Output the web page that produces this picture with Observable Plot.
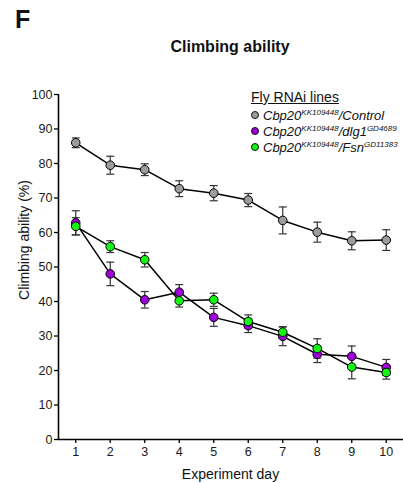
<!DOCTYPE html>
<html><head><meta charset="utf-8">
<script src="https://cdn.jsdelivr.net/npm/d3@7"></script>
<script src="https://cdn.jsdelivr.net/npm/@observablehq/plot@0.6"></script>
<style>
body{margin:0;background:#fff;font-family:"Liberation Sans",Arial,sans-serif;color:#111;}
#wrap{position:relative;width:403px;height:483px;overflow:hidden;}
.abs{position:absolute;line-height:1;white-space:nowrap;}
#panel{left:15px;top:7px;font-size:25px;font-weight:bold;}
#title{left:230px;top:38.5px;font-size:16px;font-weight:bold;transform:translateX(-50%);}
#ylab{left:24px;top:240px;font-size:14px;transform:translate(-50%,-50%) rotate(-90deg);}
#xlab{left:230.5px;top:467px;font-size:14px;transform:translateX(-50%);}
#chart{position:absolute;left:0;top:60px;}
#legend{position:absolute;left:251px;top:89px;}
#legend .hd{font-size:14px;text-decoration:underline;line-height:16px;height:18px;}
#legend .row{display:flex;align-items:center;height:16px;font-size:13px;font-style:italic;}
#legend .mk{width:8px;height:8px;border-radius:50%;border:1px solid #111;box-sizing:border-box;margin-left:0px;margin-right:4px;}
#legend sup{font-size:8px;vertical-align:5px;line-height:0;}
</style></head><body>
<div id="wrap">
  <div class="abs" id="panel">F</div>
  <div class="abs" id="title">Climbing ability</div>
  <div class="abs" id="ylab">Climbing ability (%)</div>
  <div class="abs" id="xlab">Experiment day</div>
  <div id="chart"></div>
  <div id="legend"></div>
</div>
<script>
// ---- data ----
const days = [1, 2, 3, 4, 5, 6, 7, 8, 9, 10];
const yTicks = [0, 10, 20, 30, 40, 50, 60, 70, 80, 90, 100];

const seriesNames = ["Control", "dlg1", "Fsn"];
const seriesColors = ["#9c9c9c", "#9e00da", "#14f514"];

const controlMean = [86.0, 79.5, 78.2, 72.7, 71.4, 69.4, 63.5, 60.1, 57.6, 57.8];
const controlErr  = [1.4, 2.6, 1.7, 2.3, 2.2, 1.9, 3.9, 2.9, 2.6, 3.0];

const dlg1Mean = [62.8, 48.0, 40.5, 42.7, 35.4, 33.0, 29.9, 24.7, 24.1, 20.9];
const dlg1Err  = [3.5, 3.4, 2.4, 2.2, 2.6, 2.0, 2.7, 2.4, 3.0, 2.3];

const fsnMean = [61.8, 55.9, 52.1, 40.2, 40.5, 34.2, 31.1, 26.4, 21.0, 19.4];
const fsnErr  = [2.5, 1.7, 2.1, 1.8, 1.9, 1.9, 1.6, 2.8, 3.4, 1.9];

// legend labels
const legendTitle = "Fly RNAi lines";
const legendBase = "Cbp20";
const legendBaseSup = "KK109448";
const legendSuffix = ["/Control", "/dlg1", "/Fsn"];
const legendSuffixSup = ["", "GD4689", "GD11383"];

// ---- build table ----
const means = [controlMean, dlg1Mean, fsnMean];
const errs = [controlErr, dlg1Err, fsnErr];
const rows = [];
seriesNames.forEach((s, i) => days.forEach((d, j) => rows.push({
  series: s, day: d, mean: means[i][j], lo: means[i][j] - errs[i][j], hi: means[i][j] + errs[i][j]
})));
const capHalf = 0.115;
const xDomain = [0.5, 10.5];

const color = {domain: seriesNames, range: seriesColors};

const plot = Plot.plot({
  width: 403, height: 423,
  marginTop: 34, marginBottom: 44, marginLeft: 58, marginRight: 0,
  style: {fontFamily: "Liberation Sans, Arial, sans-serif", fontSize: "12.5px", color: "#1a1a1a", background: "transparent", overflow: "visible"},
  x: {domain: xDomain},
  y: {domain: [yTicks[0], yTicks[yTicks.length - 1]]},
  color,
  marks: [
    Plot.axisY({ticks: yTicks, tickSize: 4, tickPadding: 2, label: null, strokeWidth: 1.3, stroke: "#000"}),
    Plot.axisX({ticks: days, tickSize: 4, tickPadding: 4, label: null, strokeWidth: 1.3, stroke: "#000"}),
    Plot.ruleX([xDomain[0]], {stroke: "#000", strokeWidth: 1.6}),
    Plot.ruleY([yTicks[0]], {stroke: "#000", strokeWidth: 1.6}),
    // error bars
    Plot.ruleX(rows, {x: "day", y1: "lo", y2: "hi", stroke: "#333", strokeWidth: 1.2}),
    Plot.link(rows, {x1: d => d.day - capHalf, x2: d => d.day + capHalf, y1: "hi", y2: "hi", stroke: "#333", strokeWidth: 1.2}),
    Plot.link(rows, {x1: d => d.day - capHalf, x2: d => d.day + capHalf, y1: "lo", y2: "lo", stroke: "#333", strokeWidth: 1.2}),
    // lines
    Plot.line(rows, {x: "day", y: "mean", z: "series", stroke: "#000", strokeWidth: 1.5}),
    // dots
    Plot.dot(rows, {x: "day", y: "mean", fill: "series", r: 4.3, stroke: "#000", strokeWidth: 1})
  ]
});
document.getElementById("chart").appendChild(plot);

// ---- legend ----
const lg = document.getElementById("legend");
const hd = document.createElement("div");
hd.className = "hd"; hd.textContent = legendTitle; lg.appendChild(hd);
seriesNames.forEach((s, i) => {
  const row = document.createElement("div"); row.className = "row";
  const mk = document.createElement("span"); mk.className = "mk"; mk.style.background = seriesColors[i];
  row.appendChild(mk);
  const t = document.createElement("span");
  t.innerHTML = legendBase + "<sup>" + legendBaseSup + "</sup>" + legendSuffix[i] + (legendSuffixSup[i] ? "<sup>" + legendSuffixSup[i] + "</sup>" : "");
  row.appendChild(t);
  lg.appendChild(row);
});
</script>
</body></html>
